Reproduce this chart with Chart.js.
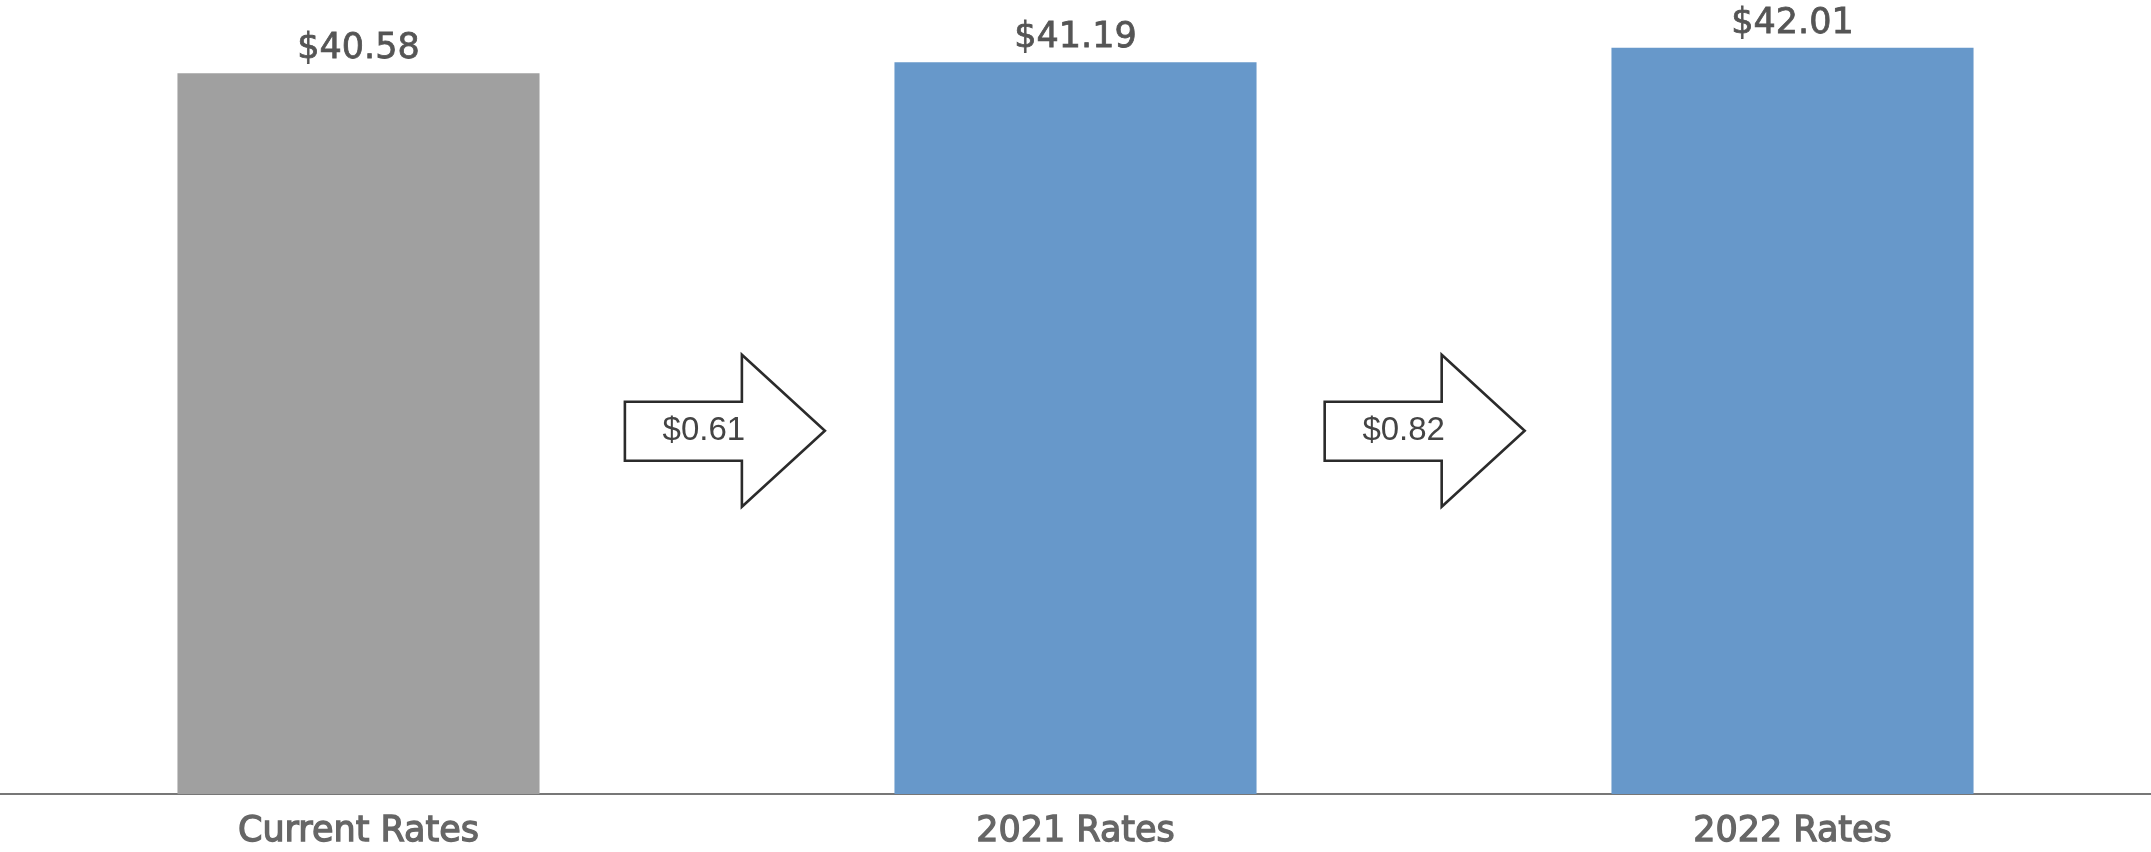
<!DOCTYPE html>
<html>
<head>
<meta charset="utf-8">
<script src="https://cdn.jsdelivr.net/npm/chart.js@4"></script>
<style>
  html, body { margin: 0; padding: 0; background: #fff; }
  #wrap { width: 2151px; height: 852px; }
</style>
</head>
<body>
<div id="wrap"><canvas id="c"></canvas></div>
<script>
// --- Données ---
const categories = ['Current Rates', '2021 Rates', '2022 Rates'];
const rates = [40.58, 41.19, 42.01];
const barColors = ['#a0a0a0', '#6798ca', '#6798ca'];
// flèches entre les barres : écart affiché
const deltas = ['$0.61', '$0.82'];

const fmtUsd = (n) => '$' + n.toFixed(2);

// --- Étiquettes de valeur au-dessus des barres ---
const valueLabels = {
  id: 'valueLabels',
  afterDatasetsDraw(chart) {
    const ctx = chart.ctx;
    const meta = chart.getDatasetMeta(0);
    ctx.save();
    ctx.font = '35px "DejaVu Sans"';
    ctx.fillStyle = '#555555';
    ctx.strokeStyle = '#555555';
    ctx.lineWidth = 0.8;
    ctx.textAlign = 'center';
    ctx.textBaseline = 'alphabetic';
    meta.data.forEach((bar, i) => {
      const t = fmtUsd(rates[i]);
      ctx.fillText(t, bar.x, bar.y - 15);
      ctx.strokeText(t, bar.x, bar.y - 15);
    });
    ctx.restore();
  }
};

// --- Flèches entre catégories ---
const arrows = {
  id: 'arrows',
  afterDatasetsDraw(chart) {
    const ctx = chart.ctx;
    const xs = chart.scales.x, ys = chart.scales.y;
    const step = xs.getPixelForValue(1) - xs.getPixelForValue(0);
    const offs = [0.511, 0.487];
    ctx.save();
    deltas.forEach((txt, i) => {
      const cx = xs.getPixelForValue(i) + offs[i] * step;
      const cy = ys.getPixelForValue(20.45);
      const L = cx - 100, H = cx + 17, T = cx + 100;
      ctx.beginPath();
      ctx.moveTo(L, cy - 29);
      ctx.lineTo(H, cy - 29);
      ctx.lineTo(H, cy - 76);
      ctx.lineTo(T, cy);
      ctx.lineTo(H, cy + 76);
      ctx.lineTo(H, cy + 30);
      ctx.lineTo(L, cy + 30);
      ctx.closePath();
      ctx.fillStyle = '#ffffff';
      ctx.fill();
      ctx.lineWidth = 2.6;
      ctx.lineJoin = 'miter';
      ctx.strokeStyle = '#2b2b2b';
      ctx.stroke();
      ctx.font = '33px "Liberation Sans"';
      ctx.fillStyle = '#444444';
      ctx.textAlign = 'center';
      ctx.textBaseline = 'middle';
      ctx.fillText(txt, cx - 21, cy);
    });
    ctx.restore();
  }
};

chart = new Chart(document.getElementById('c'), {
  type: 'bar',
  data: {
    labels: categories,
    datasets: [{
      data: rates,
      backgroundColor: barColors,
      borderWidth: 0,
      categoryPercentage: 1,
      barPercentage: 0.505
    }]
  },
  options: {
    responsive: true,
    maintainAspectRatio: false,
    animation: false,
    layout: { padding: { top: 0, left: 0, right: 0, bottom: -18 } },
    plugins: { legend: { display: false }, tooltip: { enabled: false } },
    scales: {
      x: {
        grid: { display: false, drawTicks: false },
        border: { display: true, color: '#777777', width: 2 },
        ticks: {
          color: '#666666',
          padding: 17,
          textStrokeColor: '#666666',
          textStrokeWidth: 1.3,
          font: { family: 'DejaVu Sans', size: 35, weight: 'normal' }
        }
      },
      y: {
        display: false,
        min: 0,
        max: 44.7
      }
    }
  },
  plugins: [valueLabels, arrows]
});
</script>
</body>
</html>
